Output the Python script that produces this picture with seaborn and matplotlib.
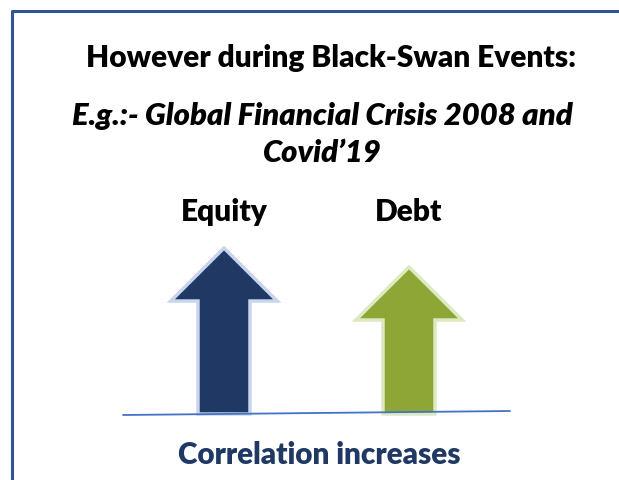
import matplotlib
matplotlib.use("Agg")
import matplotlib.pyplot as plt
from matplotlib.lines import Line2D
import seaborn as sns

# data
categories = ["Equity", "Debt"]
arrow_heights = [166, 147]          # height of each arrow above the baseline (px)
fill_colors = ["#1F3864", "#8DA636"]
edge_colors = ["#C8D5EC", "#DDE9C0"]
title_lines = ["However during Black-Swan Events:",
               "E.g.:- Global Financial Crisis 2008 and",
               "Covid\u201919"]
footer = "Correlation increases"

sns.set_theme(style="white")
plt.rcParams["font.family"] = ["Lato", "DejaVu Sans"]

W, H = 619, 480
fig = plt.figure(figsize=(W / 100, H / 100), dpi=100)
fig.patch.set_facecolor("white")

# one unit per category on x (185 px apart), pixels above baseline on y
ax = fig.add_axes([0, 0, 1, 1])
ax.set_xlim(-224 / 185, (W - 224) / 185)
ax.set_ylim(-66, 414)
ax.axis("off")

for i, (cat, h) in enumerate(zip(categories, arrow_heights)):
    ax.arrow(i, 0, 0, h, width=0.281, head_width=0.575, head_length=53,
             length_includes_head=True, fc=fill_colors[i], ec=edge_colors[i],
             lw=2.5, zorder=2)
    ax.text(i, 202, cat, ha="center", va="center", fontsize=21.5,
            fontweight="heavy", color="black")

ax.plot([-0.546, 1.546], [-1, 3], color="#4472C4", lw=1.3, zorder=3)

# frame lines (left and top)
fig.add_artist(Line2D([11.5 / W, 11.5 / W, 1], [0, 1 - 11 / H, 1 - 11 / H],
                      color="#2F5597", lw=2.2, transform=fig.transFigure))

fig.text(331 / W, 1 - 58 / H, title_lines[0], ha="center", va="center",
         fontsize=21.5, fontweight="heavy", color="black")
fig.text(322 / W, 1 - 116 / H, title_lines[1], ha="center", va="center",
         fontsize=22.3, fontweight="heavy", fontstyle="italic", color="black")
fig.text(322 / W, 1 - 153 / H, title_lines[2], ha="center", va="center",
         fontsize=22.3, fontweight="heavy", fontstyle="italic", color="black")
fig.text(319 / W, 1 - 455 / H, footer, ha="center", va="center",
         fontsize=21.3, fontweight="heavy", color="#1F3864")

fig.savefig("out.png", dpi=100)
